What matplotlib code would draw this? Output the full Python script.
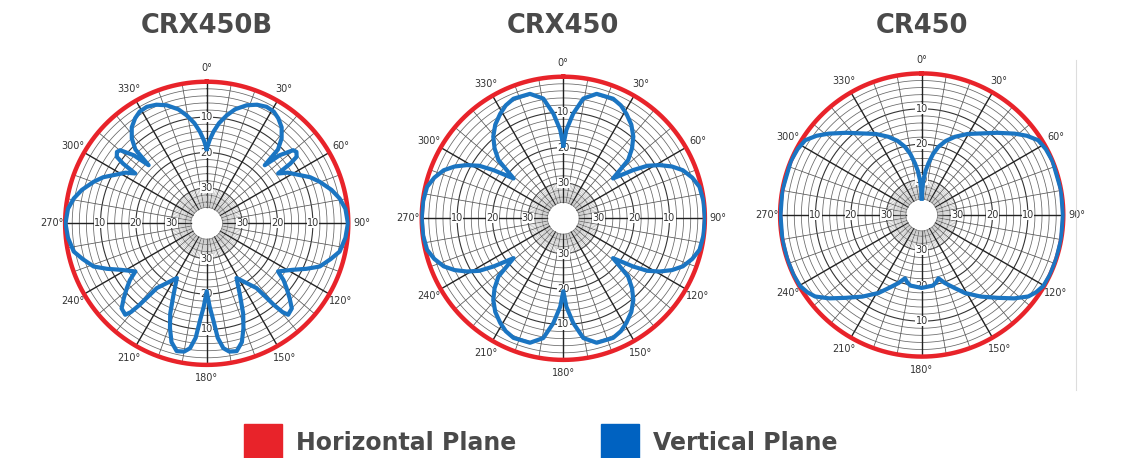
import numpy as np
import matplotlib
matplotlib.use("Agg")
import matplotlib.pyplot as plt
from matplotlib.patches import Rectangle

# ─────────────────────────────────────────────────────────────
# DATA  (vertical plane, half pattern 0..180 deg, mirrored; dB)
# ─────────────────────────────────────────────────────────────
titles = ["CRX450B", "CRX450", "CR450"]
angle_labels = ["0°", "30°", "60°", "90°", "120°", "150°",
                "180°", "210°", "240°", "270°", "300°", "330°"]
ring_labels = ["10", "20", "30"]
legend_labels = ["Horizontal Plane", "Vertical Plane"]

crx450b_ang = [0, 2, 4.2, 7, 10.5, 14, 18.7, 23, 27.2, 31, 34.3, 38, 41.4, 44, 45,
               47, 49.8, 51.5, 53.5, 54.5, 55.1,
               58, 62.6, 66, 69.8, 75, 79.4, 84, 90, 96, 102, 106, 110.9, 114.5, 118.3, 124,
               126.5, 129, 132, 135, 138.3, 139.5, 140.5, 142.4, 146.3, 151.4,
               155.1, 158, 160.7, 163.5, 166.8, 170, 172.4, 174.5, 176, 178, 180]
crx450b_db = [-19, -16.5, -14.1, -11.5, -9, -6.8, -4.8, -3.6, -3, -3.2, -4.1, -5.6, -8, -11, -16.8,
              -11.8, -8, -7.6, -8.4, -11, -15.4,
              -13, -10.4, -8, -6, -3.5, -1.8, -0.6, -0.1, -0.6, -1.6, -3.5, -5.8, -9, -12.3, -15.7,
              -13, -11, -8.5, -6, -5.4, -7, -10, -16.9, -19.7, -22.4,
              -17.7, -12.5, -8.6, -5, -2.9, -3.2, -4.4, -7.5, -12.3, -16.5, -20.8]

# CRX450 is also symmetric about 90 deg
crx450_ang = [0, 2, 5.4, 9.5, 15, 22.6, 27, 31.1, 36, 40.6, 44.5, 48.1, 51.3,
              55.4, 58, 61.1, 64.5, 68.1, 72.5, 77, 83, 90]
crx450_db = [-19.4, -15, -10.3, -5.7, -3.6, -3.4, -4.2, -5.5, -7.3, -9.6, -12.3, -15.4, -22,
             -16, -12, -8.9, -6, -3.6, -1.8, -0.5, -0.1, 0]

cr450_ang = [0, 1.5, 2.8, 5, 7.4, 10.5, 13.7, 18, 23, 29.5, 36.3, 42.5, 48.8, 53, 57.3, 62, 67.6,
             80, 90, 100, 108, 115, 120.2, 124, 127.4, 132, 137.4, 144, 151, 156, 161.2,
             165.2, 168, 171, 174.7, 180]
cr450_db = [-35.3, -32.5, -30.1, -27.5, -25.3, -22.5, -20.2, -18, -16, -13.7, -11.4, -8.5, -5.1, -2.8, -0.9, -0.3, 0,
            0, -0.1, 0, 0, 0, -0.2, -1, -2.1, -4.8, -8.2, -11.5, -14.8, -17.5, -19.7,
            -21.5, -20.5, -19.8, -19.7, -19.4]

horizontal_db = 0.0

# ─────────────────────────────────────────────────────────────
# STYLE
# ─────────────────────────────────────────────────────────────
RED = "#e8232a"
BLUE = "#1b75c2"
TXT = "#4a4a4a"
W, H = 1124, 458
centers = [(206.7, 223.3), (563.3, 218.3), (921.7, 215.0)]
radius = 143
R_MIN, R_HOLE = -40, -35.5


def mirror_half(ang, db, axis=180):
    """Mirror a half pattern about `axis` degrees."""
    ang = np.asarray(ang, float)
    db = np.asarray(db, float)
    a = np.concatenate([ang, 2 * axis - ang[::-1][1:]])
    d = np.concatenate([db, db[::-1][1:]])
    return a, d


def draw_grid(ax):
    th = np.linspace(0, 2 * np.pi, 361)
    for r in np.arange(-34, 0, 2):
        major = r in (-30, -20, -10)
        ax.plot(th, np.full_like(th, r), color="#333" if major else "#666",
                lw=0.8 if major else 0.55, zorder=1)
    ax.plot(th, np.full_like(th, R_HOLE), color="#777", lw=0.6, zorder=1)
    for a in range(0, 360, 10):
        t = np.deg2rad(a)
        major = a % 30 == 0
        ax.plot([t, t], [R_HOLE, 0], color="#222" if major else "#555",
                lw=1.0 if major else 0.55, zorder=1)
    for a in np.arange(0, 360, 2.5):
        if a % 10 == 0:
            continue
        t = np.deg2rad(a)
        ax.plot([t, t], [R_HOLE, -30], color="#aaa", lw=0.35, zorder=1)


a2, d2 = mirror_half(crx450_ang, crx450_db, axis=90)
patterns = [mirror_half(crx450b_ang, crx450b_db),
            mirror_half(a2, d2),
            mirror_half(cr450_ang, cr450_db)]

fig = plt.figure(figsize=(W / 100, H / 100), dpi=100)

for (cx, cy), title, (ang, db) in zip(centers, titles, patterns):
    ax = fig.add_axes([(cx - radius) / W, (H - cy - radius) / H,
                       2 * radius / W, 2 * radius / H], projection="polar")
    ax.set_theta_zero_location("N")
    ax.set_theta_direction(-1)
    ax.set_ylim(R_MIN, 0.4)
    ax.grid(False)
    ax.set_xticks([])
    ax.set_yticks([])
    ax.spines["polar"].set_visible(False)
    ax.patch.set_alpha(0)

    draw_grid(ax)

    for t_deg in (0, 90, 180, 270):
        for i, lab in enumerate(ring_labels):
            ax.text(np.deg2rad(t_deg), -10 * (i + 1), lab, fontsize=7, color="#333",
                    ha="center", va="center", zorder=2,
                    bbox=dict(facecolor="white", edgecolor="none", pad=0.1))

    for i, lab in enumerate(angle_labels):
        ax.text(np.deg2rad(30 * i), 3.8, lab, fontsize=7, color="#333",
                ha="center", va="center", clip_on=False)

    th = np.linspace(0, 2 * np.pi, 361)
    ax.plot(th, np.full_like(th, horizontal_db), color=RED, lw=3.2, zorder=4,
            clip_on=False)
    ax.plot(np.deg2rad(ang), db, color=BLUE, lw=3.0, zorder=5,
            solid_joinstyle="round")

    fig.text(cx / W, 1 - 26 / H, title, fontsize=18.5, fontweight="bold",
             color=TXT, ha="center", va="center")

# faint frame edge next to the third chart
fig.add_artist(plt.Line2D([1076 / W, 1076 / W], [1 - 60 / H, 1 - 390 / H],
                          color="#dddddd", lw=0.8))

# legend
for x0, col, lab in [(244, RED, legend_labels[0]), (601, "#0062c1", legend_labels[1])]:
    fig.add_artist(Rectangle((x0 / W, 0), 38 / W, 34 / H, color=col,
                             transform=fig.transFigure))
    fig.text((x0 + 52) / W, 1 - 443 / H, lab, fontsize=17, fontweight="bold",
             color=TXT, ha="left", va="center")

fig.savefig("out.png", dpi=100)
